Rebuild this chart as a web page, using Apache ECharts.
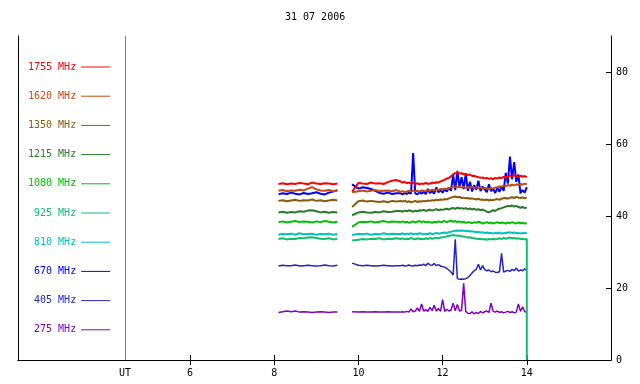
<!DOCTYPE html>
<html><head><meta charset="utf-8">
<script src="https://cdn.jsdelivr.net/npm/echarts@6/dist/echarts.min.js"></script>
<style>html,body{margin:0;padding:0;background:#fff}#c{width:640px;height:384px}</style>
</head><body><div id="c"></div>
<script>
// ---- data ----
const titleText = '31 07 2006';
const utHour = 4.457;
const xTicks = [6, 8, 10, 12, 14];
const yTicks = [0, 20, 40, 60, 80];
const gapHour = 9.7;
const seg1Hours = [8.1,8.2,8.3,8.4,8.5,8.6,8.7,8.8,8.9,9.0,9.1,9.2,9.3,9.4,9.5];
const seg2Hours = [9.85,10.0,10.1,10.2,10.3,10.4,10.5,10.6,10.7,10.8,10.9,
 11.00,11.05,11.10,11.15,11.20,11.25,11.30,11.35,11.40,11.45,
 11.50,11.55,11.60,11.65,11.70,11.75,11.80,11.85,11.90,11.95,
 12.00,12.05,12.10,12.15,12.20,12.25,12.30,12.35,12.40,12.45,
 12.50,12.55,12.60,12.65,12.70,12.75,12.80,12.85,12.90,12.95,
 13.00,13.05,13.10,13.15,13.20,13.25,13.30,13.35,13.40,13.45,
 13.50,13.55,13.60,13.65,13.70,13.75,13.80,13.85,13.90,13.95,
 14.00];
const tailHours = [14.0, 14.0];

const f1755a = [48.9,49.1,48.8,49.0,48.9,49.2,49.0,48.8,49.3,49.0,48.9,49.1,49.0,48.8,49.0];
const f1755b = [46.8,49.2,49.0,48.9,49.3,49.0,49.1,48.9,49.4,49.8,50.0,
 49.6,49.3,49.5,49.1,49.3,49.0,49.2,48.9,49.1,48.8,
 49.0,48.9,49.2,48.9,49.0,49.3,49.1,49.4,49.3,49.6,
 49.8,50.1,50.4,50.6,51.0,51.6,51.9,52.0,51.8,51.9,
 51.6,51.7,51.4,51.5,51.1,51.2,50.9,50.8,50.6,50.7,
 50.4,50.6,50.3,50.5,50.2,50.6,50.4,50.7,50.5,50.9,
 50.6,51.0,51.3,50.9,51.4,51.1,50.8,51.2,50.9,51.1,
 50.8];

const f1620a = [47.0,47.2,46.9,47.1,47.0,47.3,47.1,47.6,48.0,47.4,47.1,47.0,47.2,46.9,47.1];
const f1620b = [46.6,46.9,47.1,46.8,47.0,47.2,46.9,47.0,47.1,46.9,47.2,
 46.7,46.9,46.6,46.8,47.0,46.8,47.1,46.9,47.0,46.8,
 47.1,47.0,46.9,47.2,47.0,47.3,47.1,47.4,47.2,47.5,
 47.4,47.6,47.5,47.8,47.9,48.1,48.2,48.0,48.2,47.9,
 48.1,47.8,48.0,47.9,48.1,47.8,48.0,47.7,47.9,47.6,
 47.8,47.7,47.5,47.8,47.6,47.9,48.0,48.2,48.1,48.4,
 48.3,48.6,48.4,48.7,48.5,48.8,48.6,48.9,48.7,49.0,
 48.8];

const f1350a = [44.2,44.4,44.1,44.3,44.5,44.2,44.4,44.3,44.6,44.2,44.4,44.1,44.3,44.5,44.3];
const f1350b = [42.5,44.1,44.3,44.0,44.2,44.0,43.9,44.1,43.8,44.2,44.0,
 44.2,44.0,44.3,43.9,44.1,43.8,44.0,44.2,43.9,44.1,
 44.0,44.2,44.1,44.3,44.2,44.4,44.3,44.5,44.4,44.6,
 44.5,44.7,44.6,44.9,45.1,45.3,45.4,45.2,45.3,45.0,
 45.1,44.9,45.0,44.8,44.9,44.7,44.6,44.8,44.5,44.6,
 44.4,44.6,44.3,44.5,44.4,44.6,44.7,44.5,44.8,44.9,
 45.0,44.8,45.1,45.2,45.0,45.3,45.1,45.0,45.2,44.9,
 45.1];

const f1215a = [41.0,41.2,40.9,41.1,41.0,41.3,41.2,41.5,41.6,41.3,41.0,41.2,40.9,41.1,41.0];
const f1215b = [40.2,41.0,41.2,41.0,40.9,41.1,41.0,41.3,41.1,41.2,41.4,
 41.4,41.2,41.5,41.3,41.6,41.4,41.2,41.5,41.3,41.6,
 41.5,41.7,41.4,41.6,41.8,41.5,41.7,41.9,41.6,41.8,
 41.7,41.9,42.0,41.8,42.1,42.2,42.0,42.3,42.1,42.2,
 42.0,42.2,41.9,42.1,41.8,42.0,41.7,41.9,41.6,41.8,
 41.5,41.2,41.0,41.3,41.6,41.4,41.8,42.0,42.2,42.4,
 42.6,42.8,42.7,42.9,42.6,42.8,42.5,42.3,42.5,42.2,
 42.4];

const f1080a = [38.3,38.5,38.2,38.4,38.6,38.3,38.5,38.4,38.2,38.5,38.3,38.6,38.4,38.2,38.4];
const f1080b = [37.0,38.2,38.4,38.3,38.5,38.2,38.4,38.6,38.3,38.5,38.4,
 38.3,38.5,38.2,38.4,38.1,38.3,38.5,38.2,38.4,38.6,
 38.3,38.5,38.2,38.4,38.3,38.1,38.4,38.2,38.5,38.3,
 38.4,38.6,38.3,38.5,38.7,38.4,38.6,38.3,38.5,38.2,
 38.4,38.1,38.3,38.2,38.0,38.3,38.1,38.4,38.2,37.9,
 38.1,38.3,38.0,38.2,37.9,38.1,38.3,38.0,38.2,38.1,
 37.9,38.2,38.0,38.3,38.1,37.9,38.2,38.0,38.1,37.9,
 38.0];

const f925a = [33.6,33.8,33.5,33.7,33.6,33.9,33.8,34.0,34.1,33.9,33.7,33.6,33.8,33.5,33.7];
const f925b = [33.2,33.4,33.6,33.5,33.7,33.6,33.8,33.5,33.7,33.6,33.8,
 33.6,33.8,33.5,33.7,33.6,33.9,33.7,33.5,33.8,33.6,
 33.7,33.5,33.8,33.6,33.9,33.7,33.8,34.0,33.8,34.0,
 34.1,34.2,34.3,34.5,34.6,34.7,34.6,34.5,34.6,34.4,
 34.3,34.2,34.0,34.1,33.9,33.8,33.7,33.6,33.7,33.5,
 33.6,33.4,33.6,33.5,33.7,33.5,33.6,33.8,33.6,33.9,
 33.7,33.9,34.0,33.8,33.9,33.7,33.8,33.6,33.7,33.5,
 33.6];
const f925tail = [17.0, 0];

const f810a = [34.8,35.0,34.9,35.1,34.8,35.2,34.9,35.0,35.1,34.8,35.0,34.9,35.1,34.8,35.0];
const f810b = [34.7,35.0,34.9,35.1,34.8,35.0,34.9,35.2,34.9,35.1,35.0,
 35.0,35.2,34.9,35.1,35.0,35.2,34.9,35.1,35.0,35.2,
 35.1,34.9,35.1,35.0,35.2,35.0,35.1,35.3,35.1,35.2,
 35.3,35.4,35.3,35.5,35.6,35.8,35.9,36.0,35.9,36.0,
 35.9,35.8,35.9,35.7,35.8,35.6,35.5,35.6,35.4,35.5,
 35.3,35.4,35.2,35.3,35.1,35.3,35.2,35.4,35.1,35.3,
 35.2,35.4,35.5,35.3,35.4,35.2,35.3,35.1,35.3,35.2,
 35.3];

const f670a = [46.0,46.3,46.1,46.5,46.2,46.0,46.4,46.1,46.3,46.6,46.2,46.0,46.5,46.8,47.2];
const f670b = [48.8,47.6,48.0,47.8,47.5,47.0,46.4,46.2,46.5,46.1,46.3,
 46.3,46.0,46.4,46.1,46.5,46.2,57.5,46.3,46.0,46.6,
 46.2,46.8,46.1,47.5,46.4,46.9,46.2,48.0,46.6,47.2,
 46.5,47.4,46.8,47.9,47.0,51.5,47.2,52.5,48.0,50.8,
 47.5,51.8,47.0,49.5,46.8,48.6,47.3,49.8,46.9,48.2,
 47.4,46.6,48.8,46.9,47.5,46.4,47.8,46.7,48.3,47.0,
 52.0,49.0,56.5,50.2,55.0,49.5,51.5,46.3,47.2,46.5,
 48.0];

const f405a = [26.1,26.3,26.2,26.2,26.4,26.1,26.2,26.3,26.2,26.1,26.2,26.4,26.2,26.1,26.3];
const f405b = [26.9,26.3,26.2,26.3,26.2,26.1,26.2,26.3,26.2,26.1,26.2,
 26.2,26.3,26.1,26.2,26.4,26.2,26.1,26.3,26.2,26.4,
 26.3,26.6,26.2,26.9,26.4,26.3,26.8,26.2,26.5,26.1,
 25.9,25.8,25.4,25.0,24.4,23.6,33.5,22.6,22.4,22.5,
 22.4,22.6,22.9,23.5,24.2,24.8,25.2,26.6,25.0,26.2,
 25.1,24.8,25.0,24.5,24.7,24.4,24.3,24.5,29.6,24.4,
 24.7,24.9,24.6,25.2,24.8,25.6,24.7,25.0,24.8,25.3,
 24.9];

const f275a = [13.2,13.4,13.6,13.4,13.6,13.3,13.4,13.3,13.2,13.3,13.4,13.3,13.2,13.3,13.3];
const f275b = [13.4,13.3,13.4,13.3,13.3,13.4,13.3,13.3,13.4,13.3,13.3,
 13.3,13.4,13.3,13.5,13.3,14.2,13.4,13.6,14.5,13.5,
 15.6,13.6,14.0,13.5,14.6,13.7,15.2,13.6,14.3,13.5,
 16.8,13.5,14.1,13.6,13.9,15.8,13.7,15.4,13.6,13.8,
 21.3,13.5,13.0,12.9,13.4,12.8,13.2,12.9,13.5,13.1,
 13.4,13.6,13.2,15.8,13.5,13.3,13.6,13.2,13.4,13.1,
 13.3,13.5,13.2,13.4,13.1,13.3,15.6,13.5,14.8,13.4,
 13.3];

const seriesNames = ['1755 MHz','1620 MHz','1350 MHz','1215 MHz','1080 MHz','925 MHz','810 MHz','670 MHz','405 MHz','275 MHz'];
const seriesColors = ['#ff0000','#c24a10','#8a5a0c','#2a7a2a','#00c000','#10c070','#00c0c0','#0000ff','#2424c0','#8000c0'];
const seriesA = [f1755a,f1620a,f1350a,f1215a,f1080a,f925a,f810a,f670a,f405a,f275a];
const seriesB = [f1755b,f1620b,f1350b,f1215b,f1080b,f925b,f810b,f670b,f405b,f275b];
const seriesTail = [null,null,null,null,null,f925tail,null,null,null,null];

// ---- chart ----
const FONT = 'DejaVu Sans Mono';
function build(a, b, tail) {
  const d = seg1Hours.map((h, i) => [h, a[i]]);
  d.push([gapHour, '-']);
  seg2Hours.forEach((h, i) => d.push([h, b[i]]));
  if (tail) tailHours.forEach((h, i) => d.push([h, tail[i]]));
  return d;
}
const series = [];
for (let i = seriesNames.length - 1; i >= 0; i--) {
  series.push({
    name: seriesNames[i], type: 'line', xAxisIndex: 0, yAxisIndex: 1,
    data: build(seriesA[i], seriesB[i], seriesTail[i]),
    showSymbol: false, symbol: 'none', color: seriesColors[i],
    lineStyle: { width: i >= 8 ? 1.5 : 2, color: seriesColors[i] },
    animation: false
  });
}
series[0].markLine = {
  silent: true, symbol: ['none', 'none'], animation: false,
  label: { show: false },
  lineStyle: { color: '#808080', width: 1, type: 'solid' },
  data: [{ xAxis: utHour }]
};

const chart = echarts.init(document.getElementById('c'), null, { renderer: 'canvas' });
const axisLine = { show: true, lineStyle: { color: '#000', width: 1 } };
chart.setOption({
  animation: false,
  backgroundColor: '#fff',
  textStyle: { fontFamily: FONT },
  title: {
    text: titleText, left: 285, top: 12, padding: 0,
    textStyle: { fontFamily: FONT, fontSize: 10, fontWeight: 'normal', color: '#000' }
  },
  legend: {
    orient: 'vertical', left: 28, top: 61, padding: 0,
    align: 'right', icon: 'rect', itemWidth: 29, itemHeight: 1, itemGap: 17.2,
    selectedMode: false,
    textStyle: { fontFamily: FONT, fontSize: 10, lineHeight: 12 },
    data: seriesNames.map((n, i) => ({ name: n, textStyle: { color: seriesColors[i] } }))
  },
  grid: { left: 18, right: 29, top: 36, bottom: 24, containLabel: false },
  xAxis: [
    { type: 'value', position: 'bottom', min: 1.913, max: 16,
      axisLine, splitLine: { show: false },
      axisTick: { inside: true, length: 5, lineStyle: { color: '#000' }, customValues: xTicks },
      axisLabel: { customValues: [utHour].concat(xTicks), margin: 8, color: '#000', fontFamily: FONT, fontSize: 10,
        formatter: v => (Math.abs(v - utHour) < 1e-6 ? 'UT' : String(v)) } },
    { type: 'value', position: 'top', min: 1.913, max: 16,
      axisLine, splitLine: { show: false },
      axisTick: { inside: true, length: 5, lineStyle: { color: '#000' }, customValues: xTicks },
      axisLabel: { show: false } }
  ],
  yAxis: [
    { type: 'value', position: 'left', min: 0, max: 90,
      axisLine, axisTick: { show: false }, axisLabel: { show: false }, splitLine: { show: false } },
    { type: 'value', position: 'right', min: 0, max: 90,
      axisLine, splitLine: { show: false },
      axisTick: { inside: true, length: 5, lineStyle: { color: '#000' }, customValues: yTicks },
      axisLabel: { customValues: yTicks, margin: 5, color: '#000', fontFamily: FONT, fontSize: 10 } }
  ],
  series
});
</script>
</body></html>
